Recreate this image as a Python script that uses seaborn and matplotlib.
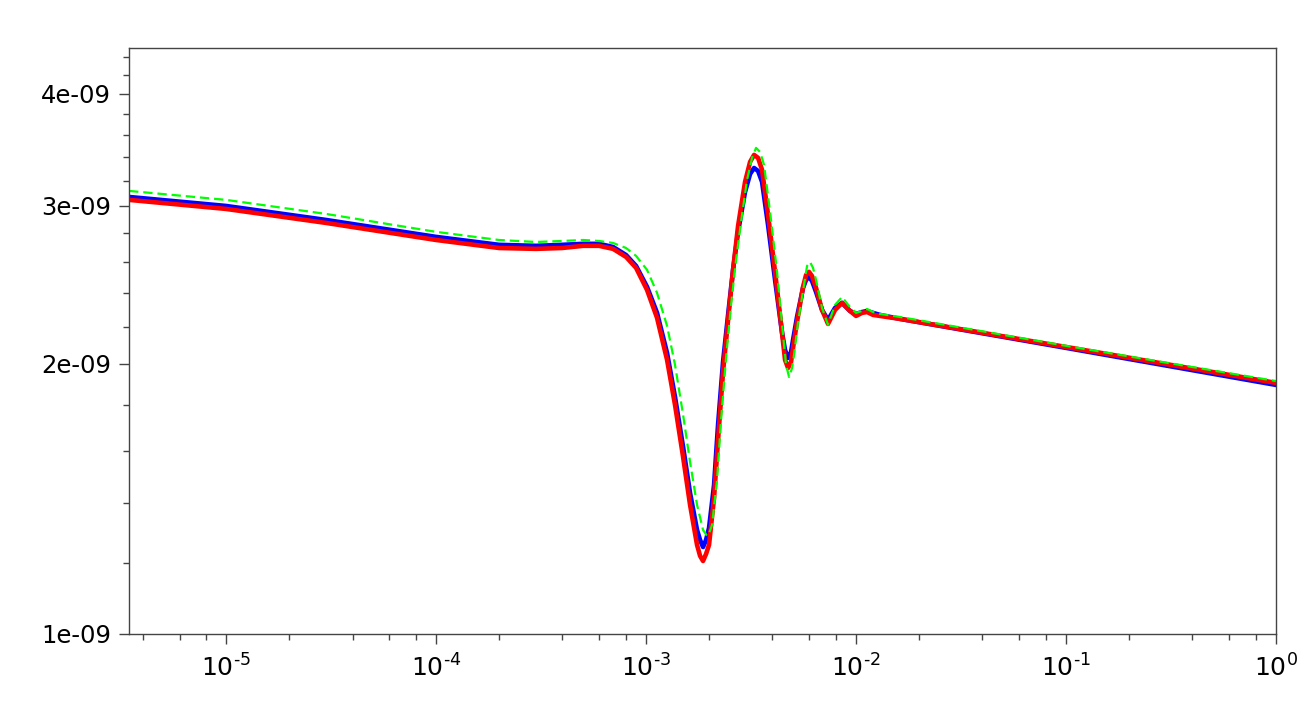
import numpy as np
import pandas as pd
import matplotlib
matplotlib.use("Agg")
import matplotlib.pyplot as plt
import matplotlib.ticker as mticker
import seaborn as sns

# k values shared by the blue and red curves
k_main = [3.452e-6, 1.0e-5, 2.994e-5, 1.0e-4, 1.995e-4, 2.994e-4, 3.981e-4, 5.012e-4, 5.973e-4, 6.965e-4,
          8.031e-4, 8.963e-4, 1.011e-3, 1.128e-3, 1.259e-3, 1.374e-3, 1.501e-3, 1.620e-3, 1.749e-3, 1.808e-3,
          1.868e-3, 1.931e-3, 1.995e-3, 2.108e-3, 2.202e-3, 2.326e-3, 2.458e-3, 2.596e-3, 2.743e-3, 2.961e-3,
          3.129e-3, 3.269e-3, 3.415e-3, 3.568e-3, 3.811e-3, 4.115e-3, 4.443e-3, 4.590e-3, 4.745e-3, 4.903e-3,
          5.012e-3, 5.236e-3, 5.592e-3, 5.781e-3, 5.973e-3, 6.172e-3, 6.449e-3, 6.888e-3, 7.356e-3, 7.943e-3,
          8.577e-3, 9.363e-3, 1.0e-2, 1.068e-2, 1.128e-2, 1.205e-2, 1.301e-2, 1.620e-2, 1.0e-1, 1.0]

# spectra in units of 1e-9
p_blue = [3.070, 3.000, 2.894, 2.771, 2.715, 2.708, 2.715, 2.722, 2.722, 2.700,
          2.645, 2.572, 2.437, 2.280, 2.057, 1.837, 1.616, 1.436, 1.306, 1.273,
          1.250, 1.273, 1.313, 1.466, 1.710, 2.010, 2.268, 2.546, 2.807, 3.110,
          3.257, 3.307, 3.282, 3.191, 2.857, 2.481, 2.166, 2.073, 2.031, 2.062,
          2.127, 2.256, 2.431, 2.481, 2.500, 2.475, 2.406, 2.297, 2.239, 2.309,
          2.339, 2.291, 2.274, 2.285, 2.291, 2.280, 2.268, 2.245, 2.084, 1.895]

p_red = [3.047, 2.977, 2.872, 2.749, 2.693, 2.687, 2.693, 2.708, 2.708, 2.687,
         2.632, 2.559, 2.418, 2.251, 2.021, 1.800, 1.575, 1.393, 1.257, 1.222,
         1.206, 1.228, 1.257, 1.418, 1.645, 1.959, 2.239, 2.546, 2.850, 3.191,
         3.359, 3.420, 3.394, 3.291, 2.932, 2.533, 2.166, 2.021, 1.979, 2.010,
         2.084, 2.228, 2.437, 2.513, 2.533, 2.506, 2.431, 2.297, 2.216, 2.297,
         2.339, 2.291, 2.262, 2.280, 2.285, 2.268, 2.262, 2.245, 2.089, 1.905]

# green dashed curve has its own k samples
k_green = [3.452e-6, 1.0e-5, 2.994e-5, 1.0e-4, 1.995e-4, 2.994e-4, 3.981e-4, 5.012e-4, 5.973e-4, 6.965e-4,
           8.031e-4, 8.963e-4, 1.011e-3, 1.128e-3, 1.259e-3, 1.374e-3, 1.501e-3, 1.620e-3, 1.749e-3, 1.868e-3,
           1.952e-3, 2.017e-3, 2.062e-3, 2.178e-3, 2.276e-3, 2.404e-3, 2.540e-3, 2.683e-3, 2.834e-3, 3.027e-3,
           3.198e-3, 3.341e-3, 3.491e-3, 3.647e-3, 3.896e-3, 4.206e-3, 4.493e-3, 4.642e-3, 4.797e-3, 4.957e-3,
           5.068e-3, 5.294e-3, 5.654e-3, 5.845e-3, 6.039e-3, 6.240e-3, 6.449e-3, 6.888e-3, 7.356e-3, 7.943e-3,
           8.577e-3, 9.261e-3, 1.0e-2, 1.068e-2, 1.128e-2, 1.205e-2, 1.301e-2, 1.620e-2, 1.0e-1, 1.0]

p_green = [3.118, 3.047, 2.939, 2.807, 2.749, 2.735, 2.742, 2.749, 2.742, 2.728,
           2.693, 2.639, 2.546, 2.400, 2.205, 1.995, 1.755, 1.555, 1.393, 1.306,
           1.286, 1.303, 1.323, 1.485, 1.732, 2.031, 2.327, 2.612, 2.879, 3.207,
           3.394, 3.482, 3.446, 3.333, 2.954, 2.533, 2.154, 1.995, 1.934, 1.979,
           2.047, 2.228, 2.450, 2.572, 2.598, 2.559, 2.481, 2.309, 2.211, 2.327,
           2.375, 2.321, 2.280, 2.291, 2.303, 2.285, 2.274, 2.256, 2.095, 1.914]

y_major = [1e-9, 2e-9, 3e-9, 4e-9]
y_minor = [1.2e-9, 1.4e-9, 1.6e-9, 1.8e-9, 2.2e-9, 2.4e-9, 2.6e-9, 2.8e-9,
           3.2e-9, 3.4e-9, 3.6e-9, 3.8e-9, 4.2e-9, 4.4e-9]

sns.set_style("ticks")
plt.rcParams["font.family"] = ["DejaVu Sans"]
plt.rcParams["mathtext.fontset"] = "dejavusans"

df_main = pd.DataFrame({"k": k_main,
                        "blue": np.array(p_blue) * 1e-9,
                        "red": np.array(p_red) * 1e-9})
df_green = pd.DataFrame({"k": k_green, "green": np.array(p_green) * 1e-9})

fig = plt.figure(figsize=(12.97, 7.17), dpi=100)
ax = fig.add_axes([0.0995, 0.1158, 0.8843, 0.8173])

sns.lineplot(data=df_main, x="k", y="blue", ax=ax, color="#0000ff", lw=3.3,
             estimator=None, sort=False)
sns.lineplot(data=df_main, x="k", y="red", ax=ax, color="#ff0000", lw=3.3,
             estimator=None, sort=False)
sns.lineplot(data=df_green, x="k", y="green", ax=ax, color="#00ff00", lw=1.6,
             estimator=None, sort=False)
ax.lines[-1].set_dashes([4.2, 2.2])
for ln in ax.lines:
    ln.set_solid_joinstyle("round")

ax.set_xscale("log")
ax.set_yscale("log")
ax.set_xlim(3.45e-6, 1.0)
ax.set_ylim(1e-9, 4.5e-9)


def pow_label(v, pos):
    e = int(round(np.log10(v)))
    if e < 0:
        return r"$10^{\text{-}%d}$" % (-e)
    return r"$10^{%d}$" % e


ax.xaxis.set_major_locator(mticker.LogLocator(base=10))
ax.xaxis.set_major_formatter(mticker.FuncFormatter(pow_label))
ax.xaxis.set_minor_locator(mticker.LogLocator(base=10, subs=(2, 4, 6, 8)))
ax.xaxis.set_minor_formatter(mticker.NullFormatter())

ax.yaxis.set_major_locator(mticker.FixedLocator(y_major))
ax.yaxis.set_major_formatter(mticker.FuncFormatter(lambda v, p: "%.0e" % v))
ax.yaxis.set_minor_locator(mticker.FixedLocator(y_minor))
ax.yaxis.set_minor_formatter(mticker.NullFormatter())

ax.set_xlabel("")
ax.set_ylabel("")

edge = "#444444"
for s in ax.spines.values():
    s.set_visible(True)
    s.set_color(edge)
    s.set_linewidth(1.0)

ax.tick_params(axis="both", which="major", direction="out", length=7, width=1,
               color=edge, labelcolor="black", labelsize=17.5, pad=6)
ax.tick_params(axis="both", which="minor", direction="out", length=4, width=1,
               color=edge)
ax.tick_params(axis="x", which="major", labelsize=18, pad=8)

fig.savefig("out.png", dpi=100)
